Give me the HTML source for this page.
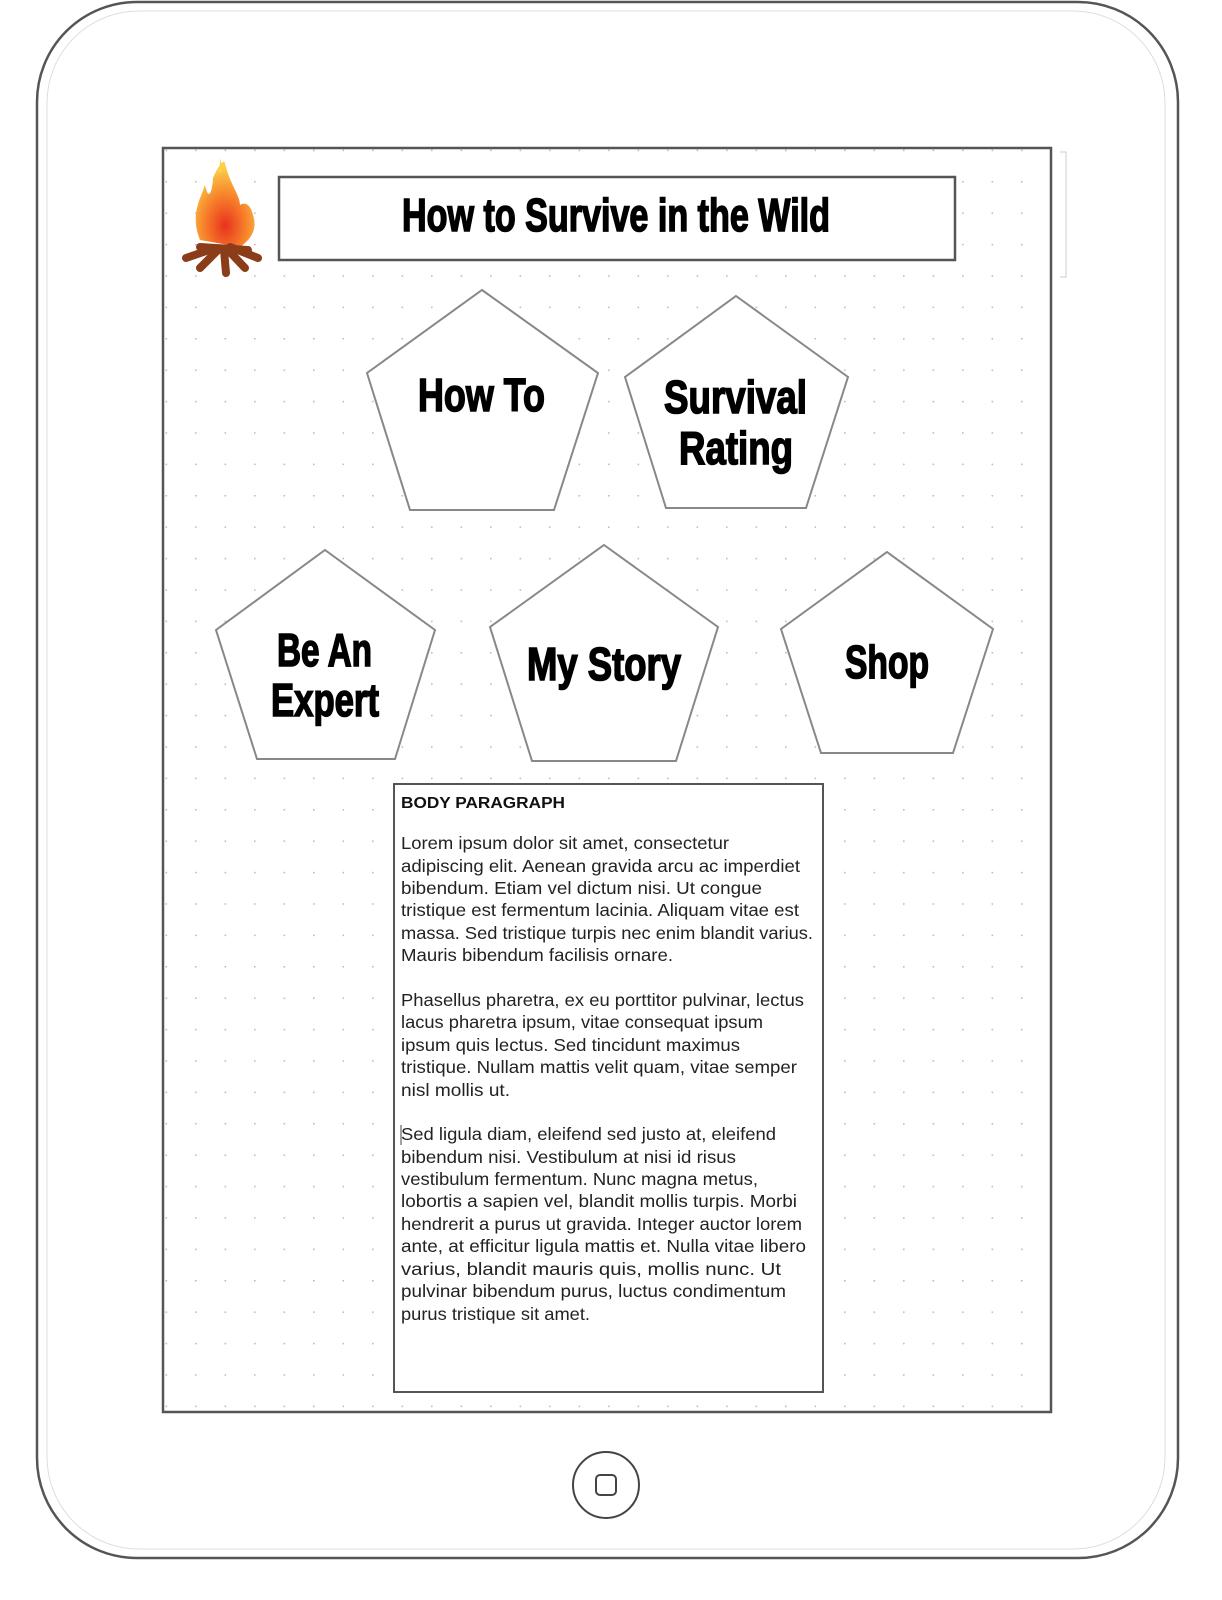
<!DOCTYPE html>
<html><head><style>
html,body{margin:0;padding:0;background:#fff}
svg{display:block}
.t{font-family:"Liberation Sans Narrow","Liberation Sans",sans-serif;font-weight:bold;font-size:46px;fill:#000;stroke:#000;stroke-width:1.6px}
.b{font-family:"Liberation Sans",sans-serif;font-size:17.5px;fill:#222}
</style></head><body>
<svg width="1222" height="1600" viewBox="0 0 1222 1600" xmlns="http://www.w3.org/2000/svg">
<defs>
<pattern id="dots" x="195" y="181" width="29.5" height="31.4" patternUnits="userSpaceOnUse">
<circle cx="0.8" cy="0.8" r="0.9" fill="#bbb"/>
</pattern>
<radialGradient id="fl" cx="0.5" cy="0.75" r="0.7">
<stop offset="0" stop-color="#e8321e"/><stop offset="0.5" stop-color="#f7802a"/><stop offset="1" stop-color="#fcd14a"/>
</radialGradient>
</defs>
<rect x="37" y="2" width="1141" height="1556" rx="100" fill="none" stroke="#555" stroke-width="2.5"/>
<rect x="47" y="11" width="1118" height="1538" rx="92" fill="none" stroke="#ddd" stroke-width="1"/>
<rect x="163" y="148" width="888" height="1264" fill="url(#dots)" stroke="#555" stroke-width="2.5"/>
<path d="M1060 152 H1066 V277 H1060" fill="none" stroke="#ccc" stroke-width="1"/>
<g>
<path d="M200 240 C190 215 200 200 205 185 C208 200 212 195 213 178 C220 162 224 160 225 163 C230 185 240 195 240 205 C248 200 252 210 253 215 C258 230 250 240 240 247 Z" fill="url(#fl)"/>
<path d="M217 172 C221 165 220 160 219 158 C225 168 224 175 217 172Z" fill="#fcd14a"/>
<g stroke="#8a3d18" stroke-width="8" stroke-linecap="round">
<line x1="186" y1="258" x2="215" y2="248"/><line x1="258" y1="258" x2="230" y2="247"/>
<line x1="200" y1="268" x2="218" y2="250"/><line x1="245" y1="268" x2="228" y2="250"/>
<line x1="226" y1="273" x2="224" y2="250"/><line x1="200" y1="247" x2="248" y2="250"/>
</g>
</g>
<rect x="279" y="177" width="676" height="83" fill="#fff" stroke="#555" stroke-width="2.5"/>
<text class="t" x="402" y="231" textLength="428" lengthAdjust="spacingAndGlyphs">How to Survive in the Wild</text>
<g fill="#fff" stroke="#888" stroke-width="2">
<polygon points="482,290 598,373 554,510 410,510 367,373"/>
<polygon points="736,296 848,377 806,508 666,508 625,377"/>
<polygon points="325,550 435,630 395,759 257,759 216,630"/>
<polygon points="604,545 718,627 676,761 532,761 490,627"/>
<polygon points="887,552 993,629 953,753 821,753 781,629"/>
</g>
<text class="t" x="418" y="411" textLength="127" lengthAdjust="spacingAndGlyphs">How To</text>
<text class="t" x="664" y="413" textLength="143" lengthAdjust="spacingAndGlyphs">Survival</text>
<text class="t" x="679" y="464" textLength="114" lengthAdjust="spacingAndGlyphs">Rating</text>
<text class="t" x="277" y="666" textLength="95" lengthAdjust="spacingAndGlyphs">Be An</text>
<text class="t" x="271" y="716" textLength="108" lengthAdjust="spacingAndGlyphs">Expert</text>
<text class="t" x="527" y="680" textLength="154" lengthAdjust="spacingAndGlyphs">My Story</text>
<text class="t" x="845" y="678" textLength="84" lengthAdjust="spacingAndGlyphs">Shop</text>
<rect x="394" y="784" width="429" height="608" fill="#fff" stroke="#555" stroke-width="2"/>
<text x="401" y="808" font-family="Liberation Sans, sans-serif" font-weight="bold" font-size="16" fill="#111" textLength="164" lengthAdjust="spacingAndGlyphs">BODY PARAGRAPH</text>
<g class="b">
<text x="401" y="849" textLength="328" lengthAdjust="spacingAndGlyphs">Lorem ipsum dolor sit amet, consectetur</text>
<text x="401" y="872" textLength="399" lengthAdjust="spacingAndGlyphs">adipiscing elit. Aenean gravida arcu ac imperdiet</text>
<text x="401" y="894" textLength="361" lengthAdjust="spacingAndGlyphs">bibendum. Etiam vel dictum nisi. Ut congue</text>
<text x="401" y="916" textLength="398" lengthAdjust="spacingAndGlyphs">tristique est fermentum lacinia. Aliquam vitae est</text>
<text x="401" y="939" textLength="412" lengthAdjust="spacingAndGlyphs">massa. Sed tristique turpis nec enim blandit varius.</text>
<text x="401" y="961" textLength="272" lengthAdjust="spacingAndGlyphs">Mauris bibendum facilisis ornare.</text>
<text x="401" y="1006" textLength="403" lengthAdjust="spacingAndGlyphs">Phasellus pharetra, ex eu porttitor pulvinar, lectus</text>
<text x="401" y="1028" textLength="362" lengthAdjust="spacingAndGlyphs">lacus pharetra ipsum, vitae consequat ipsum</text>
<text x="401" y="1051" textLength="339" lengthAdjust="spacingAndGlyphs">ipsum quis lectus. Sed tincidunt maximus</text>
<text x="401" y="1073" textLength="396" lengthAdjust="spacingAndGlyphs">tristique. Nullam mattis velit quam, vitae semper</text>
<text x="401" y="1096" textLength="109" lengthAdjust="spacingAndGlyphs">nisl mollis ut.</text>
<text x="401" y="1140" textLength="375" lengthAdjust="spacingAndGlyphs">Sed ligula diam, eleifend sed justo at, eleifend</text>
<text x="401" y="1163" textLength="335" lengthAdjust="spacingAndGlyphs">bibendum nisi. Vestibulum at nisi id risus</text>
<text x="401" y="1185" textLength="357" lengthAdjust="spacingAndGlyphs">vestibulum fermentum. Nunc magna metus,</text>
<text x="401" y="1207" textLength="396" lengthAdjust="spacingAndGlyphs">lobortis a sapien vel, blandit mollis turpis. Morbi</text>
<text x="401" y="1230" textLength="401" lengthAdjust="spacingAndGlyphs">hendrerit a purus ut gravida. Integer auctor lorem</text>
<text x="401" y="1252" textLength="405" lengthAdjust="spacingAndGlyphs">ante, at efficitur ligula mattis et. Nulla vitae libero</text>
<text x="401" y="1275" textLength="380" lengthAdjust="spacingAndGlyphs">varius, blandit mauris quis, mollis nunc. Ut</text>
<text x="401" y="1297" textLength="385" lengthAdjust="spacingAndGlyphs">pulvinar bibendum purus, luctus condimentum</text>
<text x="401" y="1320" textLength="189" lengthAdjust="spacingAndGlyphs">purus tristique sit amet.</text>
</g>
<line x1="401" y1="1125" x2="401" y2="1145" stroke="#444" stroke-width="1"/>
<circle cx="606" cy="1485" r="33" fill="#fff" stroke="#444" stroke-width="2"/>
<rect x="596" y="1475" width="20" height="20" rx="4" fill="none" stroke="#444" stroke-width="2"/>
</svg>
</body></html>
